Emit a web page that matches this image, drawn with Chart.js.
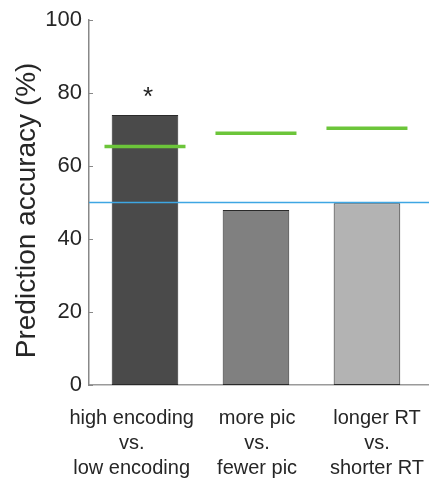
<!DOCTYPE html>
<html>
<head>
<meta charset="utf-8">
<script src="https://cdn.jsdelivr.net/npm/chart.js@4.4.1/dist/chart.umd.min.js"></script>
<style>
  body { margin: 0; background: #fff; }
  #wrap { width: 429px; height: 481px; }
</style>
</head>
<body>
<div id="wrap"><canvas id="chart"></canvas></div>
<script>
// data
const conditions = [
    ['high encoding', 'vs.', 'low encoding'],
    ['more pic', 'vs.', 'fewer pic'],
    ['longer RT', 'vs.', 'shorter RT']
];
const barX = [1, 2, 3];
const accuracy = [74, 48, 49.8];          // bars
const permutationLevel = [65.4, 69.0, 70.4]; // green marks
const chanceLevel = 50;                   // blue line
const sigMarks = ['*', '', ''];
const labelAt = [0.88, 2.01, 3.09];       // where the category text sits
const yTicks = [0, 20, 40, 60, 80, 100];
const xMin = 0.4955, xMax = 3.559;

const barColors = ['#4a4a4a', '#808080', '#b3b3b3'];
const FONT = "'Liberation Sans', Arial, Helvetica, sans-serif";

// short tick marks pointing into the axes (matlab style)
const inwardTicks = {
    id: 'inwardTicks',
    afterDraw(chart) {
        const ctx = chart.ctx;
        const y = chart.scales.y;
        const left = chart.chartArea.left;
        ctx.save();
        ctx.strokeStyle = '#888';
        ctx.lineWidth = 1;
        for (const v of yTicks) {
            const py = Math.round(y.getPixelForValue(v)) + 0.5;
            ctx.beginPath();
            ctx.moveTo(left, py);
            ctx.lineTo(left + 4, py);
            ctx.stroke();
        }
        ctx.restore();
    }
};

// significance stars above bars
const stars = {
    id: 'stars',
    afterDatasetsDraw(chart) {
        const ctx = chart.ctx;
        const xs = chart.scales.x, ys = chart.scales.y;
        ctx.save();
        ctx.fillStyle = '#222';
        ctx.font = '26px ' + FONT;
        ctx.textAlign = 'center';
        ctx.textBaseline = 'alphabetic';
        sigMarks.forEach((s, i) => {
            if (!s) return;
            ctx.fillText(s, xs.getPixelForValue(barX[i]) + 3, ys.getPixelForValue(accuracy[i] + 2.8));
        });
        ctx.restore();
    }
};

const ctx = document.getElementById('chart').getContext('2d');
const chart = new Chart(ctx, {
    type: 'bar',
    data: {
        datasets: [
            {
                type: 'scatter',
                label: 'permutation',
                data: barX.map((x, i) => ({x: x, y: permutationLevel[i]})),
                pointStyle: 'line',
                pointRadius: 40.5,
                pointHoverRadius: 40.5,
                borderColor: '#6cc53a',
                borderWidth: 3.5,
                clip: false,
                order: 1
            },
            {
                type: 'line',
                label: 'chance',
                data: [{x: xMin, y: chanceLevel}, {x: xMax, y: chanceLevel}],
                borderColor: '#3ea6e3',
                borderWidth: 1.5,
                pointRadius: 0,
                fill: false,
                order: 2
            },
            {
                type: 'bar',
                label: 'accuracy',
                data: barX.map((x, i) => ({x: x, y: accuracy[i]})),
                backgroundColor: barColors,
                borderColor: '#2a2a2a',
                borderWidth: 1,
                borderSkipped: false,
                barPercentage: 0.6,
                categoryPercentage: 1,
                order: 3
            }
        ]
    },
    options: {
        responsive: true,
        maintainAspectRatio: false,
        animation: false,
        layout: { autoPadding: false, padding: { top: 17, left: 0, right: 0, bottom: 0 } },
        plugins: {
            legend: { display: false },
            tooltip: { enabled: false }
        },
        scales: {
            x: {
                type: 'linear',
                min: xMin,
                max: xMax,
                offset: false,
                grid: { display: false, drawTicks: false, offset: false },
                border: { display: true, color: '#9a9a9a', width: 1.5 },
                afterBuildTicks: (scale) => {
                    scale.ticks = labelAt.map(v => ({value: v}));
                },
                afterFit: (scale) => {
                    scale.height = 96;
                    scale.paddingLeft = 0;
                    scale.paddingRight = 0;
                },
                ticks: {
                    autoSkip: false,
                    maxRotation: 0,
                    padding: 20.5,
                    color: '#262626',
                    font: { family: FONT, size: 20, lineHeight: 1.25 },
                    callback: (v, i) => conditions[i]
                }
            },
            y: {
                min: 0,
                max: 100,
                grid: { display: false, drawTicks: false },
                border: { display: true, color: '#888', width: 1.5 },
                afterBuildTicks: (scale) => {
                    scale.ticks = yTicks.map(v => ({value: v}));
                },
                afterFit: (scale) => { scale.width = 89; },
                ticks: {
                    padding: 7,
                    color: '#262626',
                    font: { family: FONT, size: 22 }
                },
                title: {
                    display: true,
                    text: 'Prediction accuracy (%)  ',
                    color: '#262626',
                    font: { family: FONT, size: 28, lineHeight: 1.2 },
                    padding: { top: 10, bottom: 0 }
                }
            }
        }
    },
    plugins: [inwardTicks, stars]
});
</script>
</body>
</html>
